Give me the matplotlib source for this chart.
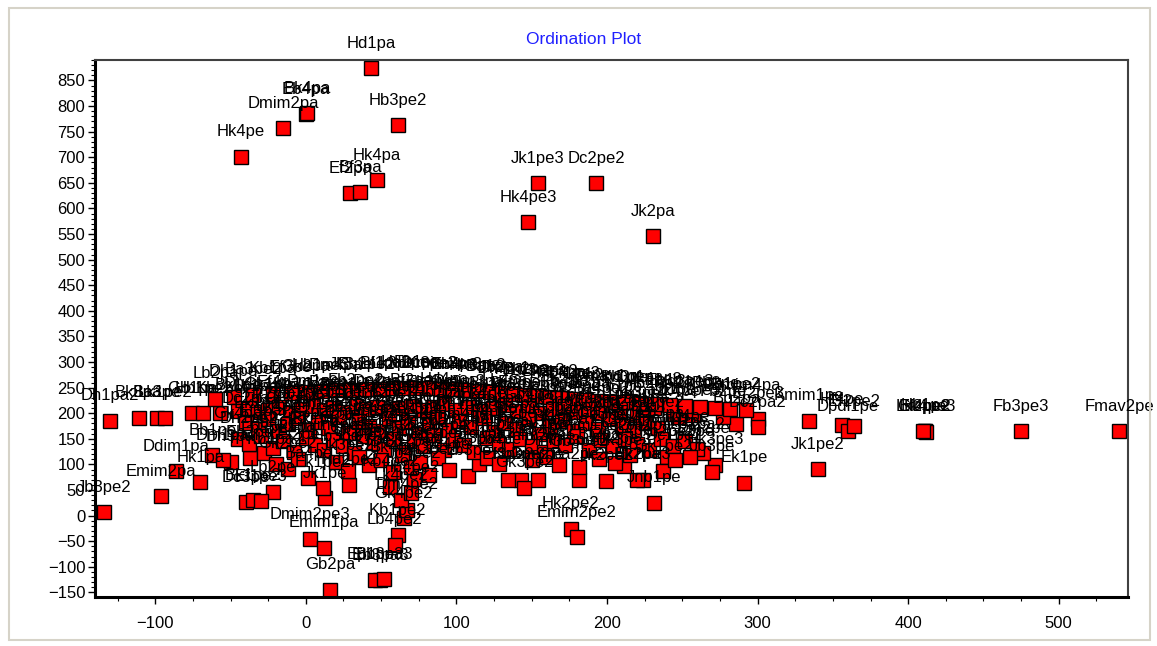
import matplotlib
matplotlib.use("Agg")
import matplotlib.pyplot as plt
from matplotlib.patches import Rectangle
from matplotlib.ticker import MultipleLocator

plt.rcParams['font.family'] = ['Liberation Sans', 'DejaVu Sans']

# ---------------- data: samples ----------------

# points standing apart (labels readable)
out_names = ["Hd1pa", "Eb4pa", "Bk4pa", "Dmim2pa", "Hk4pe", "Hb3pe2", "Hk4pa", "Ef2pa", "Bf3pa",
             "Jk1pe3", "Dc2pe2", "Hk4pe3", "Jk2pa"]
out_x = [43.4, 0, 1, -15, -43, 61, 47, 29.5, 36, 154, 193, 147.5, 230.6]
out_y = [874, 784, 786, 757, 701, 763, 655, 630, 632, 649, 649, 573, 546]

right_names = ["Fmav2pe", "Fb3pe3", "Ef4pe2", "Hb1pe", "Gk4pe3", "Lk2pe2", "Jk1pe2", "Kmim1pe",
               "Hf4pe", "Dpdl1pe", "Ef2pe2", "Ef2pe3", "Dc2pa2", "Bb2pa", "Fb2pe", "Ek1pe",
               "Hk3pe3", "Jb3pe", "Dm2pe", "Dc2pe3", "Jk4pe", "Lb1pe", "Hb2pe2", "Jnb1pe",
               "Kb2pe2", "Gk1pe2", "Ek2pe3", "Bk2pa", "Dh2pa2", "Lk3pe2", "Fb1pe", "Ek3pe3",
               "Jk2pe2", "Ba2pe3", "Gb3pe2", "Hk2pe2", "Emim2pe2", "Dm3pe", "Kb3pe2", "Ef3pe2",
               "Gk3pe2", "Lb3pe", "Bf3pa2"]
right_x = [540, 475, 411, 411, 412, 410, 340, 334, 356, 360, 364, 300, 300, 286, 277, 291,
           272, 270, 264, 257, 247, 244, 231, 231.5, 240, 237.5, 224, 220, 220, 224, 208, 211.5,
           199.5, 181.6, 181.6, 176, 180, 154, 143, 134.5, 145, 108, 115]
right_y = [165, 165, 165, 166, 164, 165, 91, 185, 177, 165, 175, 189, 173, 179, 193, 64,
           99, 86, 122, 196, 193, 198, 210, 25, 115, 87, 70, 70, 196, 190, 204, 97,
           68, 70, 95, -26, -42, 70, 70, 70, 54, 78, 101]

left_names = ["Jb3pe2", "Dh1pa2", "Bk3pa", "Ba3pe", "Lk1pe2", "Emim2pa", "Ddim1pa", "Gb1pe",
              "Hb1pe2", "Kb2pe", "Hk1pa", "Dh3pa", "Dc3pe", "Eb2pe", "Fb3pe", "Lb2pe",
              "Bk1pe2", "Ef1pe3", "Dmim2pe3", "Emim1pa", "Gb2pa", "Jk1pe", "Ek1pe2", "Ba4pe",
              "Hd2pe2", "Eb3pa3", "Ep1pe3", "Bb3pa3", "Kb4pe2", "Kb1pe2", "Lb4pe2", "Gk4pe2",
              "Dm4pe2", "Lk4pe2", "Hb4pe2", "Jb4pe2"]
left_x = [-134, -130, -111, -99, -93.5, -96, -86, -75.6, -68, -57, -70, -50, -40, -37, -27.6, -22,
          -35, -30, 3, 12, 16, 13, 11.7, 1.7, 29, 49.4, 46, 52, 56, 61, 59, 65,
          67, 63, 70, 72]
left_y = [7, 185, 191, 191, 191, 38, 87, 200, 200, 200, 65, 105, 26, 113, 122, 46,
          30, 28, -46, -63, -145, 34, 54, 73, 60, -126, -125, -124, 56, -38, -57, -5,
          11, 30, 45, 72]

# dense cloud, upper band (mostly buried under labels)
a_names = ["Lb2pa", "Dh1pe", "Ba3pe2", "Kb1pa", "Ef3pe", "Gk2pa", "Hb1pe3", "Dm4pa", "Jk3pe",
           "Eb2pe2", "Bf1pa", "Lk3pe", "Hd2pe", "Fb1pa", "Dc3pe3", "Kmim2pa", "Gb4pe", "Emim3pe",
           "Hk3pa2", "Ba1pe", "Jb2pa", "Dmim1pe", "Ek2pa", "Lb3pe3", "Bk2pe2", "Hb4pa", "Ef1pe2",
           "Gk4pe", "Dh2pa", "Fmav1pe", "Kb3pe", "Dc1pa", "Jk4pe2", "Eb1pa", "Hd3pe3", "Lk1pa",
           "Bb2pe", "Gb1pe2", "Emim4pa"]
a_x = [-60, -48, -35, -22, -10, 0, 10, 20, 30, 40, 50, 58, 66, 74, 82, 90, 98, 106, 114, 122,
       130, 138, 146, 154, 162, 170, 178, 186, 194, 202, 212, 222, 232, 242, 252, 262, 272, 282, 292]
a_y = [228, 232, 236, 238, 240, 242, 244, 245, 246, 247, 248, 249, 250, 250, 249, 248, 247, 246,
       244, 242, 240, 238, 236, 234, 232, 230, 228, 226, 224, 222, 221, 220, 218, 216, 214, 212,
       210, 208, 206]

# dense cloud, top red row
b_names = ["Bk1pe", "Dh4pa", "Lb1pe2", "Gk1pe", "Ef4pa", "Hb2pe", "Kb2pe3", "Dm1pe", "Jk2pe",
           "Ba2pa", "Eb3pe", "Fb2pe2", "Hk1pe", "Dc4pa", "Lk2pe", "Gb3pa", "Bf2pe", "Kmim3pe",
           "Ek3pe2", "Hd4pa", "Jb1pe", "Dmim3pa", "Emim1pe", "Bb1pa", "Lb4pa", "Hb3pa", "Ef2pe3b",
           "Gk3pa", "Dh3pe", "Fb4pa", "Kb4pe", "Jk3pa", "Ba4pe2"]
b_x = [-45, -38, -30, -25, -18, -10, -3, 5, 12, 18, 25, 33, 40, 47, 55, 62, 70, 78, 85, 92,
       100, 108, 116, 124, 132, 140, 148, 156, 164, 172, 180, 188, 196]
b_y = [205, 210, 203, 207, 212, 200, 208, 214, 206, 211, 203, 215, 208, 213, 204, 210, 215, 206,
       212, 218, 207, 213, 204, 210, 216, 205, 211, 201, 208, 214, 203, 209, 200]

c_names = ["Dc2pa", "Ek1pa", "Hk2pa", "Lk4pe", "Bf3pe", "Gb2pe", "Emim2pe", "Jb4pa", "Dm2pe3",
           "Kb1pe", "Eb4pe", "Hd1pe", "Fmav2pa", "Ba1pa", "Lb2pe3", "Gk2pe", "Dh1pa", "Bk3pe",
           "Ef1pa", "Hb1pa", "Kmim1pa", "Jk4pa", "Dmim4pe", "Ek4pe", "Bb3pe", "Fb1pe3", "Lk3pa",
           "Gb4pa", "Emim3pa", "Hk3pe", "Dc1pe", "Jb2pe2", "Dm3pa", "Kb3pa", "Eb1pe", "Hd2pa",
           "Ba3pa", "Lb1pa", "Bf4pe2"]
c_x = [-40, -32, -25, -18, -12, -5, 2, 8, 15, 22, 28, 35, 42, 48, 55, 62, 68, 75, 82, 88,
       95, 102, 110, 118, 125, 132, 140, 148, 155, 162, 170, 178, 186, 194, 202, 210, 218, 226, 234]
c_y = [180, 170, 188, 165, 178, 190, 168, 182, 172, 192, 162, 185, 175, 166, 190, 172, 183, 160,
       178, 192, 168, 185, 174, 190, 163, 180, 170, 188, 160, 176, 185, 165, 180, 170, 188, 175,
       165, 180, 172]

d_names = ["Gk4pa", "Dh2pe2", "Ef3pa", "Hb4pe", "Kb2pa", "Jk1pa", "Dc3pa", "Bk1pa", "Emim4pe",
           "Lk2pa", "Fb3pa", "Gb1pa", "Dmim1pa", "Ek2pe", "Hk1pe2", "Ba2pe", "Jb3pa", "Eb2pa",
           "Hd3pa", "Lb3pa", "Bb4pe", "Kmim4pe", "Dm4pe", "Gk1pa", "Ef4pe", "Dh4pe", "Hb2pa",
           "Jk2pe3", "Fmav1pa", "Dc4pe", "Bf1pe", "Kb4pa", "Lk4pa", "Emim1pe2", "Gb3pe", "Ek3pa",
           "Hk4pe2", "Ba4pa", "Jb1pa", "Eb3pa", "Dmim2pe", "Hd4pe", "Lb2pa2"]
d_x = [-45, -38, -30, -22, -15, -8, 0, 6, 12, 18, 25, 32, 38, 45, 52, 58, 65, 72, 78, 85,
       92, 98, 105, 112, 120, 128, 135, 142, 150, 158, 165, 172, 180, 188, 196, 204, 212, 220,
       228, 236, 244, 252, 260]
d_y = [150, 140, 155, 132, 145, 125, 152, 138, 128, 148, 135, 122, 155, 142, 130, 150, 125, 145,
       135, 158, 128, 148, 138, 125, 152, 140, 130, 150, 135, 125, 145, 138, 155, 128, 148, 135,
       150, 140, 128, 150, 135, 145, 130]

e_names = ["Bb1pe", "Dm1pa", "Kb1pa2", "Gk2pe2", "Ef2pe", "Hb3pe", "Jk3pe2", "Dc2pe", "Lk1pe",
           "Fb2pa", "Bk4pe", "Emim3pe2", "Gb2pe2", "Ek4pa", "Dh3pe2", "Ba1pe3", "Jb4pe", "Hd1pa2",
           "Lb4pe", "Kmim2pe", "Eb4pa2", "Dmim3pe", "Bf2pa", "Hk2pe", "Fb4pe", "Dc1pe2", "Gk3pe"]
e_x = [-62, -55, -20, -12, -5, 20, 28, 35, 42, 50, 58, 64, 70, 76, 82, 88, 95, 120, 128, 150,
       160, 168, 195, 205, 215, 245, 255]
e_y = [118, 108, 100, 92, 110, 105, 88, 115, 98, 108, 85, 118, 95, 105, 80, 112, 90, 112, 100,
       108, 115, 98, 110, 102, 118, 108, 115]

title = "Ordination Plot"

# ---------------- plot ----------------
names = out_names + right_names + left_names + a_names + b_names + c_names + d_names + e_names
xs = out_x + right_x + left_x + a_x + b_x + c_x + d_x + e_x
ys = out_y + right_y + left_y + a_y + b_y + c_y + d_y + e_y

fig = plt.figure(figsize=(11.57, 6.46), dpi=100)
fig.patches.append(Rectangle((9 / 1157, 6 / 646), 1141 / 1157, 632 / 646, transform=fig.transFigure,
                             fill=False, edgecolor='#d6d3c8', lw=1.5))
ax = fig.add_axes([95 / 1157, 1 - 597 / 646, (1128 - 95) / 1157, (597 - 60) / 646])

ax.plot(xs, ys, 's', color='#ff0000', markeredgecolor='black', markeredgewidth=1.0,
        markersize=9.5, zorder=2)
for n, x, y in zip(names, xs, ys):
    ax.annotate(n, (x, y), xytext=(0, 18), textcoords='offset points', ha='center', va='center',
                fontsize=12, color='black', zorder=3, annotation_clip=False)

ax.set_xlim(-140, 546)
ax.set_ylim(-159, 890)
ax.xaxis.set_major_locator(MultipleLocator(100))
ax.xaxis.set_minor_locator(MultipleLocator(25))
ax.yaxis.set_major_locator(MultipleLocator(50))
ax.yaxis.set_minor_locator(MultipleLocator(10))
ax.tick_params(which='major', direction='out', length=5, width=1, labelsize=12)
ax.tick_params(axis='y', which='major', pad=2)
ax.tick_params(axis='x', which='major', pad=9)
ax.tick_params(which='minor', direction='out', length=3, width=0.8)

for s in ['left', 'bottom']:
    ax.spines[s].set_linewidth(2.2)
    ax.spines[s].set_color('black')
for s in ['top', 'right']:
    ax.spines[s].set_linewidth(1.5)
    ax.spines[s].set_color('#404040')

fig.text(584 / 1157, 1 - 39 / 646, title, color='#2020ff', fontsize=12.5, ha='center', va='center')

fig.savefig('out.png', dpi=100)
